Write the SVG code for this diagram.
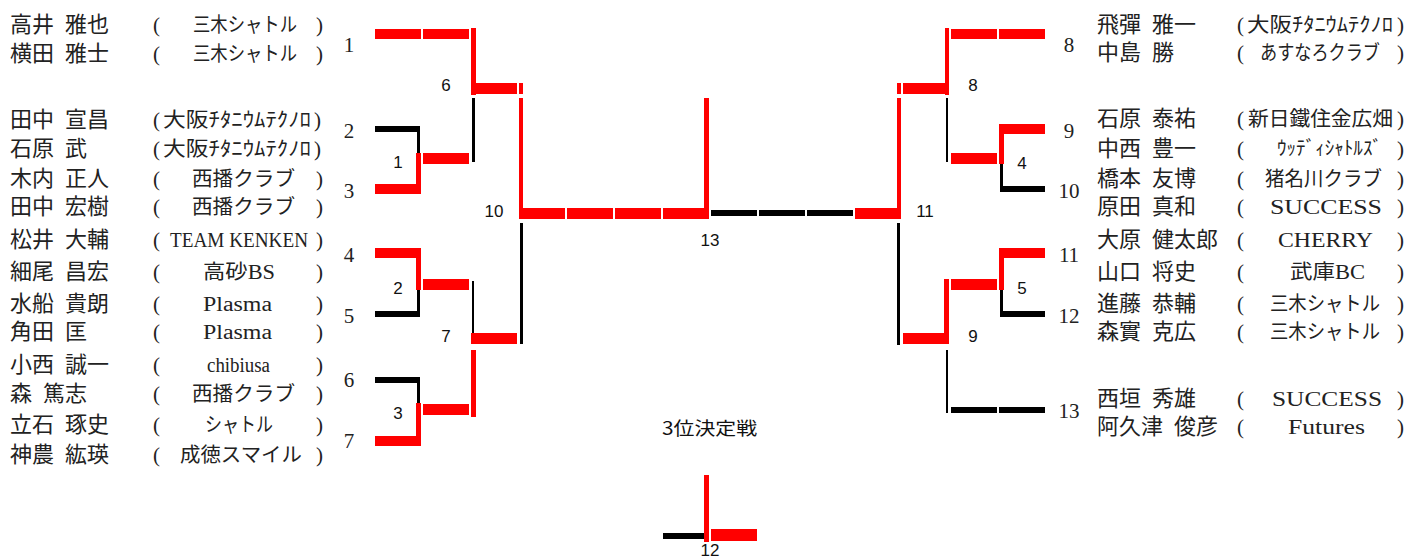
<svg xmlns="http://www.w3.org/2000/svg" width="1428" height="559" viewBox="0 0 1428 559">
<style>
.r{fill:#ff0000}
.k{fill:#000000}
.nm{font-family:"Noto Sans CJK JP","Noto Sans",sans-serif;font-size:22px;fill:#222}
.tm{font-family:"Liberation Serif","Noto Sans CJK JP",serif;font-size:20px;fill:#222}
.pr{font-family:"Liberation Serif",serif;font-size:21px;fill:#222}
.sd{font-family:"Liberation Serif",serif;font-size:21px;fill:#222;text-anchor:middle}
.ml{font-family:"Liberation Sans",Arial,sans-serif;font-size:17px;fill:#111;text-anchor:middle}
.tt{font-family:"Noto Sans CJK JP",sans-serif;font-size:18px;fill:#111}
</style>
<rect width="1428" height="559" fill="#ffffff"/>

<g id="connectors">
<!-- left bracket -->
<rect class="r" x="375" y="29" width="46" height="10"/>
<rect class="r" x="423" y="29" width="46" height="10"/>
<rect class="r" x="471" y="28" width="5" height="67"/>
<rect class="r" x="471" y="83" width="46" height="11"/>
<rect class="r" x="519" y="83" width="4" height="11"/>
<rect class="r" x="519" y="98" width="4" height="110"/>
<rect class="k" x="375" y="126" width="45" height="6"/>
<rect class="k" x="417" y="126" width="3" height="27"/>
<rect class="r" x="375" y="184" width="46" height="10"/>
<rect class="r" x="416" y="153" width="5" height="41"/>
<rect class="r" x="423" y="153" width="46" height="11"/>
<rect class="k" x="472" y="98" width="3" height="64"/>
<rect class="r" x="375" y="248" width="46" height="10"/>
<rect class="r" x="416" y="248" width="5" height="42"/>
<rect class="r" x="423" y="279" width="46" height="11"/>
<rect class="k" x="375" y="311" width="45" height="6"/>
<rect class="k" x="417" y="290" width="3" height="27"/>
<rect class="k" x="472" y="281" width="2" height="52"/>
<rect class="r" x="471" y="333" width="46" height="11"/>
<rect class="r" x="471" y="350" width="5" height="67"/>
<rect class="k" x="375" y="377" width="45" height="6"/>
<rect class="k" x="417" y="377" width="3" height="26"/>
<rect class="r" x="375" y="436" width="46" height="10"/>
<rect class="r" x="416" y="403" width="5" height="43"/>
<rect class="r" x="423" y="404" width="46" height="11"/>
<rect class="k" x="520" y="223" width="3" height="121"/>
<!-- final -->
<rect class="r" x="519" y="208" width="46" height="11"/>
<rect class="r" x="567" y="208" width="46" height="11"/>
<rect class="r" x="615" y="208" width="46" height="11"/>
<rect class="r" x="663" y="208" width="46" height="11"/>
<rect class="r" x="704" y="98" width="5" height="110"/>
<rect class="k" x="711" y="210" width="46" height="6"/>
<rect class="k" x="759" y="210" width="46" height="6"/>
<rect class="k" x="807" y="210" width="46" height="6"/>
<rect class="r" x="855" y="208" width="46" height="11"/>
<rect class="r" x="897" y="98" width="4" height="110"/>
<rect class="k" x="897" y="223" width="3" height="122"/>
<!-- right bracket -->
<rect class="r" x="951" y="29" width="46" height="10"/>
<rect class="r" x="999" y="29" width="46" height="10"/>
<rect class="r" x="945" y="28" width="4" height="67"/>
<rect class="r" x="903" y="83" width="46" height="11"/>
<rect class="r" x="897" y="83" width="4" height="11"/>
<rect class="k" x="946" y="98" width="2" height="64"/>
<rect class="r" x="951" y="153" width="46" height="11"/>
<rect class="r" x="999" y="124" width="46" height="10"/>
<rect class="r" x="999" y="124" width="5" height="40"/>
<rect class="k" x="1000" y="186" width="45" height="6"/>
<rect class="k" x="1000" y="164" width="3" height="28"/>
<rect class="r" x="999" y="248" width="46" height="10"/>
<rect class="r" x="999" y="248" width="5" height="42"/>
<rect class="r" x="951" y="279" width="46" height="11"/>
<rect class="k" x="1000" y="311" width="45" height="6"/>
<rect class="k" x="1000" y="290" width="3" height="27"/>
<rect class="r" x="944" y="279" width="5" height="65"/>
<rect class="r" x="903" y="333" width="46" height="11"/>
<rect class="k" x="946" y="350" width="2" height="63"/>
<rect class="k" x="951" y="407" width="46" height="6"/>
<rect class="k" x="999" y="407" width="46" height="6"/>
<!-- 3rd place -->
<rect class="r" x="704" y="475" width="5" height="67"/>
<rect class="k" x="663" y="533" width="41" height="6"/>
<rect class="r" x="711" y="529" width="46" height="12"/>
</g>

<g id="match-labels">
<text class="ml" x="446" y="91">6</text>
<text class="ml" x="398" y="168">1</text>
<text class="ml" x="494" y="217">10</text>
<text class="ml" x="398" y="294">2</text>
<text class="ml" x="446" y="342">7</text>
<text class="ml" x="398" y="419">3</text>
<text class="ml" x="710" y="246">13</text>
<text class="ml" x="973" y="91">8</text>
<text class="ml" x="1022" y="169">4</text>
<text class="ml" x="925" y="217">11</text>
<text class="ml" x="1022" y="294">5</text>
<text class="ml" x="973" y="342">9</text>
<text class="ml" x="710" y="556">12</text>
<text class="tt" x="662" y="435" textLength="95" lengthAdjust="spacingAndGlyphs">3位決定戦</text>
</g>

<g id="seeds">
<text class="sd" x="349" y="52">1</text>
<text class="sd" x="349" y="138">2</text>
<text class="sd" x="349" y="198">3</text>
<text class="sd" x="349" y="262">4</text>
<text class="sd" x="349" y="323">5</text>
<text class="sd" x="349" y="387">6</text>
<text class="sd" x="349" y="448">7</text>
<text class="sd" x="1069" y="52">8</text>
<text class="sd" x="1069" y="138">9</text>
<text class="sd" x="1069" y="198">10</text>
<text class="sd" x="1069" y="262">11</text>
<text class="sd" x="1069" y="323">12</text>
<text class="sd" x="1069" y="418">13</text>
</g>

<g id="left-entries">
<g id="entry-1">
<text class="nm" x="10" y="31.5">高井<tspan dx="6"> 雅也</tspan></text>
<text class="pr" x="153" y="31.5">(</text><text class="tm" x="193" y="31.5" textLength="104" lengthAdjust="spacingAndGlyphs">三木シャトル</text><text class="pr" x="316" y="31.5">)</text>
<text class="nm" x="10" y="60.5">横田<tspan dx="6"> 雅士</tspan></text>
<text class="pr" x="153" y="60.5">(</text><text class="tm" x="193" y="60.5" textLength="104" lengthAdjust="spacingAndGlyphs">三木シャトル</text><text class="pr" x="316" y="60.5">)</text>
</g>
<g id="entry-2">
<text class="nm" x="10" y="126.5">田中<tspan dx="6"> 宣昌</tspan></text>
<text class="pr" x="153" y="126.5">(</text><text class="tm" x="163" y="126.5" textLength="148" lengthAdjust="spacingAndGlyphs">大阪ﾁﾀﾆｳﾑﾃｸﾉﾛ</text><text class="pr" x="314" y="126.5">)</text>
<text class="nm" x="10" y="155.5">石原<tspan dx="6"> 武</tspan></text>
<text class="pr" x="153" y="155.5">(</text><text class="tm" x="163" y="155.5" textLength="148" lengthAdjust="spacingAndGlyphs">大阪ﾁﾀﾆｳﾑﾃｸﾉﾛ</text><text class="pr" x="314" y="155.5">)</text>
</g>
<g id="entry-3">
<text class="nm" x="10" y="185.5">木内<tspan dx="6"> 正人</tspan></text>
<text class="pr" x="153" y="185.5">(</text><text class="tm" x="192" y="185.5" textLength="103" lengthAdjust="spacingAndGlyphs">西播クラブ</text><text class="pr" x="316" y="185.5">)</text>
<text class="nm" x="10" y="213.5">田中<tspan dx="6"> 宏樹</tspan></text>
<text class="pr" x="153" y="213.5">(</text><text class="tm" x="192" y="213.5" textLength="103" lengthAdjust="spacingAndGlyphs">西播クラブ</text><text class="pr" x="316" y="213.5">)</text>
</g>
<g id="entry-4">
<text class="nm" x="10" y="247">松井<tspan dx="6"> 大輔</tspan></text>
<text class="pr" x="153" y="247">(</text><text class="tm" x="170" y="247" textLength="138" lengthAdjust="spacingAndGlyphs">TEAM KENKEN</text><text class="pr" x="316" y="247">)</text>
<text class="nm" x="10" y="278.5">細尾<tspan dx="6"> 昌宏</tspan></text>
<text class="pr" x="153" y="278.5">(</text><text class="tm" x="203" y="278.5" textLength="72" lengthAdjust="spacingAndGlyphs">高砂BS</text><text class="pr" x="316" y="278.5">)</text>
</g>
<g id="entry-5">
<text class="nm" x="10" y="310.5">水船<tspan dx="6"> 貴朗</tspan></text>
<text class="pr" x="153" y="310.5">(</text><text class="tm" x="203" y="310.5" textLength="69" lengthAdjust="spacingAndGlyphs">Plasma</text><text class="pr" x="316" y="310.5">)</text>
<text class="nm" x="10" y="338.5">角田<tspan dx="6"> 匡</tspan></text>
<text class="pr" x="153" y="338.5">(</text><text class="tm" x="203" y="338.5" textLength="69" lengthAdjust="spacingAndGlyphs">Plasma</text><text class="pr" x="316" y="338.5">)</text>
</g>
<g id="entry-6">
<text class="nm" x="10" y="371.5">小西<tspan dx="6"> 誠一</tspan></text>
<text class="pr" x="153" y="371.5">(</text><text class="tm" x="207" y="371.5" textLength="63" lengthAdjust="spacingAndGlyphs">chibiusa</text><text class="pr" x="316" y="371.5">)</text>
<text class="nm" x="10" y="400.5">森<tspan dx="6"> 篤志</tspan></text>
<text class="pr" x="153" y="400.5">(</text><text class="tm" x="192" y="400.5" textLength="103" lengthAdjust="spacingAndGlyphs">西播クラブ</text><text class="pr" x="316" y="400.5">)</text>
</g>
<g id="entry-7">
<text class="nm" x="10" y="431.5">立石<tspan dx="6"> 琢史</tspan></text>
<text class="pr" x="153" y="431.5">(</text><text class="tm" x="205" y="431.5" textLength="68" lengthAdjust="spacingAndGlyphs">シャトル</text><text class="pr" x="316" y="431.5">)</text>
<text class="nm" x="10" y="461.5">神農<tspan dx="6"> 紘瑛</tspan></text>
<text class="pr" x="153" y="461.5">(</text><text class="tm" x="180" y="461.5" textLength="122" lengthAdjust="spacingAndGlyphs">成徳スマイル</text><text class="pr" x="316" y="461.5">)</text>
</g>
</g>

<g id="right-entries">
<g id="entry-8">
<text class="nm" x="1097" y="31.5">飛彈<tspan dx="6"> 雅一</tspan></text>
<text class="pr" x="1237" y="31.5">(</text><text class="tm" x="1247" y="31.5" textLength="146" lengthAdjust="spacingAndGlyphs">大阪ﾁﾀﾆｳﾑﾃｸﾉﾛ</text><text class="pr" x="1397" y="31.5">)</text>
<text class="nm" x="1097" y="60">中島<tspan dx="6"> 勝</tspan></text>
<text class="pr" x="1237" y="60">(</text><text class="tm" x="1260" y="60" textLength="120" lengthAdjust="spacingAndGlyphs">あすなろクラブ</text><text class="pr" x="1397" y="60">)</text>
</g>
<g id="entry-9">
<text class="nm" x="1097" y="126">石原<tspan dx="6"> 泰祐</tspan></text>
<text class="pr" x="1237" y="126">(</text><text class="tm" x="1248" y="126" textLength="145" lengthAdjust="spacingAndGlyphs">新日鐵住金広畑</text><text class="pr" x="1397" y="126">)</text>
<text class="nm" x="1097" y="155.5">中西<tspan dx="6"> 豊一</tspan></text>
<text class="pr" x="1237" y="155.5">(</text><text class="tm" x="1277" y="154.5" style="font-size:19px" textLength="105" lengthAdjust="spacingAndGlyphs">ｳｯﾃﾞｨｼｬﾄﾙｽﾞ</text><text class="pr" x="1397" y="155.5">)</text>
</g>
<g id="entry-10">
<text class="nm" x="1097" y="185.5">橋本<tspan dx="6"> 友博</tspan></text>
<text class="pr" x="1237" y="185.5">(</text><text class="tm" x="1265" y="185.5" textLength="117" lengthAdjust="spacingAndGlyphs">猪名川クラブ</text><text class="pr" x="1397" y="185.5">)</text>
<text class="nm" x="1097" y="213.5">原田<tspan dx="6"> 真和</tspan></text>
<text class="pr" x="1237" y="213.5">(</text><text class="tm" x="1270" y="213.5" textLength="112" lengthAdjust="spacingAndGlyphs">SUCCESS</text><text class="pr" x="1397" y="213.5">)</text>
</g>
<g id="entry-11">
<text class="nm" x="1097" y="247">大原<tspan dx="6"> 健太郎</tspan></text>
<text class="pr" x="1237" y="247">(</text><text class="tm" x="1278" y="247" textLength="95" lengthAdjust="spacingAndGlyphs">CHERRY</text><text class="pr" x="1397" y="247">)</text>
<text class="nm" x="1097" y="278.5">山口<tspan dx="6"> 将史</tspan></text>
<text class="pr" x="1237" y="278.5">(</text><text class="tm" x="1290" y="278.5" textLength="75" lengthAdjust="spacingAndGlyphs">武庫BC</text><text class="pr" x="1397" y="278.5">)</text>
</g>
<g id="entry-12">
<text class="nm" x="1097" y="310.5">進藤<tspan dx="6"> 恭輔</tspan></text>
<text class="pr" x="1237" y="310.5">(</text><text class="tm" x="1270" y="310.5" textLength="110" lengthAdjust="spacingAndGlyphs">三木シャトル</text><text class="pr" x="1397" y="310.5">)</text>
<text class="nm" x="1097" y="338.5">森實<tspan dx="6"> 克広</tspan></text>
<text class="pr" x="1237" y="338.5">(</text><text class="tm" x="1270" y="338.5" textLength="110" lengthAdjust="spacingAndGlyphs">三木シャトル</text><text class="pr" x="1397" y="338.5">)</text>
</g>
<g id="entry-13">
<text class="nm" x="1097" y="405.5">西垣<tspan dx="6"> 秀雄</tspan></text>
<text class="pr" x="1237" y="405.5">(</text><text class="tm" x="1272" y="405.5" textLength="110" lengthAdjust="spacingAndGlyphs">SUCCESS</text><text class="pr" x="1397" y="405.5">)</text>
<text class="nm" x="1097" y="434">阿久津<tspan dx="6"> 俊彦</tspan></text>
<text class="pr" x="1237" y="434">(</text><text class="tm" x="1288" y="434" textLength="77" lengthAdjust="spacingAndGlyphs">Futures</text><text class="pr" x="1397" y="434">)</text>
</g>
</g>
</svg>
